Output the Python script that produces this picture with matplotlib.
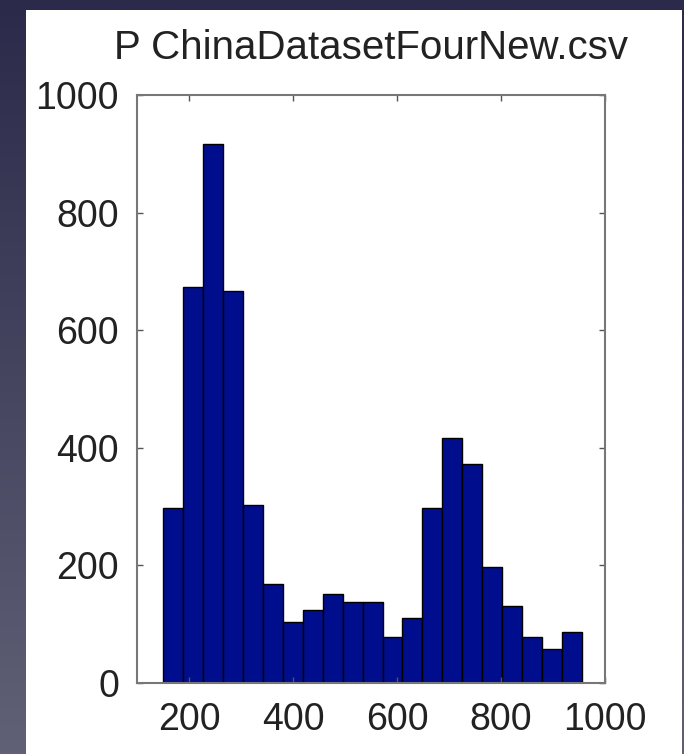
import numpy as np
import matplotlib
matplotlib.use("Agg")
import matplotlib.pyplot as plt
from matplotlib.patches import Rectangle

# ------------------------------------------------
# Data
# ------------------------------------------------
title = "P ChinaDatasetFourNew.csv"
bin_start = 150
bin_end = 956
counts = [298, 673, 917, 666, 302, 168, 103, 125, 151, 137, 137,
          78, 110, 298, 417, 373, 198, 131, 78, 58, 86]
x_ticks = [200, 400, 600, 800, 1000]
y_ticks = [0, 200, 400, 600, 800, 1000]

edges = np.linspace(bin_start, bin_end, len(counts) + 1)

plt.rcParams['font.family'] = ['Liberation Sans', 'DejaVu Sans']

fig = plt.figure(figsize=(6.84, 7.54), dpi=100)

# slide-like dark gradient background with white panel
bg = fig.add_axes([0, 0, 1, 1], zorder=-10)
top_col = np.array([0x2b, 0x2a, 0x4a]) / 255
bot_col = np.array([0x60, 0x60, 0x76]) / 255
t = np.linspace(0, 1, 256)[:, None]
grad = top_col[None, :] * (1 - t) + bot_col[None, :] * t
bg.imshow(grad[:, None, :], aspect='auto', extent=[0, 1, 0, 1])
bg.add_patch(Rectangle((26 / 684, 0), (682 - 26) / 684, (754 - 10) / 754,
                       facecolor='white', edgecolor='none'))
bg.set_xlim(0, 1)
bg.set_ylim(0, 1)
bg.axis('off')

# ------------------------------------------------
# Histogram
# ------------------------------------------------
ax = fig.add_axes([137 / 684, 71 / 754, (605 - 137) / 684, (683 - 95) / 754])
ax.bar(edges[:-1], counts, width=np.diff(edges), align='edge',
       color='#000d8c', edgecolor='black', linewidth=1.0)

ax.set_xlim(100, 1000)
ax.set_ylim(0, 1000)
ax.set_xticks(x_ticks)
ax.set_yticks(y_ticks)
ax.tick_params(direction='in', length=4, width=1, colors='#555555',
               top=True, right=True, labelsize=27, labelcolor='#222222')
ax.tick_params(axis='x', pad=14)
ax.tick_params(axis='y', pad=13)
for s in ax.spines.values():
    s.set_color('#777777')
    s.set_linewidth(1.5)

ax.set_title(title, fontsize=29, color='#222222', pad=26)

plt.savefig("out.png", dpi=100)
